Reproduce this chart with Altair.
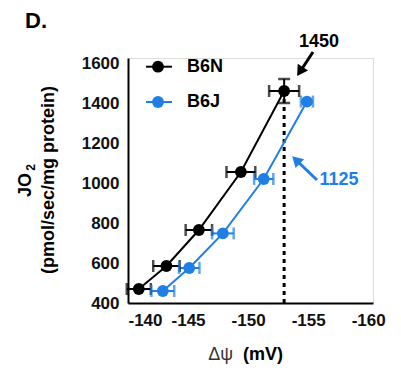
import altair as alt
import pandas as pd

# ---- data ----
genotype = ["B6N"] * 5 + ["B6J"] * 5
dpsi = [-140.9, -143.2, -145.9, -149.4, -153.0,
        -142.9, -145.1, -147.9, -151.3, -154.9]
jo2 = [470, 585, 765, 1055, 1460,
       460, 575, 748, 1020, 1407]
xerr = [1.0, 1.1, 1.1, 1.2, 1.25,
        0.95, 0.85, 0.9, 0.8, 0.5]
yerr = [0, 0, 0, 0, 60,
        0, 0, 0, 0, 0]

y_ticks = [400, 600, 800, 1000, 1200, 1400, 1600]
x_ticks = [-140, -145, -150, -155, -160]
series = ["B6N", "B6J"]
colors = ["#000000", "#1f7fe5"]

df = pd.DataFrame({"g": genotype, "x": dpsi, "y": jo2, "xe": xerr, "ye": yerr})

FONT = "Liberation Sans"

xs = alt.Scale(domain=[-160.4, -140], reverse=True, nice=False, zero=False)
ys = alt.Scale(domain=[400, 1625], nice=False, zero=False)
cs = alt.Scale(domain=series, range=colors)

LBL = "datum.value < 0 ? '-' + abs(datum.value) : '' + datum.value"

X = alt.X("x:Q", scale=xs, axis=alt.Axis(values=x_ticks, title=None, ticks=False, tickSize=0,
                                          labelExpr=LBL,
                                          labelFontSize=17, labelFontWeight="bold", labelColor="#111",
                                          labelPadding=9, domainWidth=2, domainColor="black",
                                          grid=False, labelFont=FONT))
Y = alt.Y("y:Q", scale=ys, axis=alt.Axis(values=y_ticks, title=None, ticks=False, tickSize=0,
                                          labelExpr=LBL,
                                          labelFontSize=17, labelFontWeight="bold", labelColor="#111",
                                          labelPadding=9, domainWidth=2, domainColor="black",
                                          grid=False, labelFont=FONT))
C = alt.Color("g:N", scale=cs, legend=None)

base = alt.Chart(df)

# dashed reference line at the B6N max point
dash_df = df[df["ye"] > 0].assign(y0=400)
dashed = alt.Chart(dash_df).mark_rule(strokeDash=[4, 4], strokeWidth=3, color="black").encode(
    x=alt.X("x:Q", scale=xs), y=alt.Y("y0:Q", scale=ys), y2="y:Q")

lines = base.mark_line(strokeWidth=2).encode(x=X, y=Y, color=C, detail="g:N")

herr = base.transform_calculate(lo="datum.x - datum.xe", hi="datum.x + datum.xe")
hbar = herr.mark_rule(strokeWidth=2).encode(
    x=alt.X("lo:Q", scale=xs), x2="hi:Q", y=alt.Y("y:Q", scale=ys), color=C)
hcap_lo = herr.mark_tick(orient="vertical", size=12, thickness=2.5).encode(
    x=alt.X("lo:Q", scale=xs), y=alt.Y("y:Q", scale=ys), color=C)
hcap_hi = herr.mark_tick(orient="vertical", size=12, thickness=2.5).encode(
    x=alt.X("hi:Q", scale=xs), y=alt.Y("y:Q", scale=ys), color=C)

verr = base.transform_filter("datum.ye > 0").transform_calculate(
    lo="datum.y - datum.ye", hi="datum.y + datum.ye")
vbar = verr.mark_rule(strokeWidth=2).encode(
    x=alt.X("x:Q", scale=xs), y=alt.Y("lo:Q", scale=ys), y2="hi:Q", color=C)
vcap_lo = verr.mark_tick(orient="horizontal", size=12, thickness=2.5).encode(
    x=alt.X("x:Q", scale=xs), y=alt.Y("lo:Q", scale=ys), color=C)
vcap_hi = verr.mark_tick(orient="horizontal", size=12, thickness=2.5).encode(
    x=alt.X("x:Q", scale=xs), y=alt.Y("hi:Q", scale=ys), color=C)

points = base.mark_circle(size=140, opacity=1).encode(x=X, y=Y, color=C)

one = pd.DataFrame({"a": [0]})

def txt(s, x, y, size=18, weight="bold", color="black", align="center", angle=0, baseline="middle"):
    return alt.Chart(one).mark_text(text=s, font=FONT, fontSize=size, fontWeight=weight,
                                    color=color, align=align, baseline=baseline, angle=angle).encode(
        x=alt.value(x), y=alt.value(y))

def seg(x1, y1, x2, y2, color, width=2.0, dash=None):
    kw = {"strokeWidth": width, "color": color}
    if dash:
        kw["strokeDash"] = dash
    return alt.Chart(one).mark_rule(**kw).encode(
        x=alt.value(x1), x2=alt.value(x2), y=alt.value(y1), y2=alt.value(y2))

def head(x, y, ang, color):
    return alt.Chart(one).mark_point(shape="triangle-up", size=150, filled=True, opacity=1,
                                     color=color, angle=ang).encode(x=alt.value(x), y=alt.value(y))

def dot(x, y, color):
    return alt.Chart(one).mark_circle(size=140, opacity=1, color=color).encode(
        x=alt.value(x), y=alt.value(y))

legend = [
    seg(18, 8.7, 44, 8.7, colors[0]), dot(30, 8.7, colors[0]), txt(series[0], 59, 8.5, align="left"),
    seg(18, 44, 44, 44, colors[1]), dot(30, 44, colors[1]), txt(series[1], 59, 44, align="left"),
]

annots = [
    txt("1450", 191, -16.5, size=18),
    seg(185, -6, 172.7, 12.8, "black", width=3),
    head(172.0, 13.5, 213, "black"),
    txt("1125", 211, 121.5, size=18, color=colors[1]),
    seg(189, 122, 168.6, 102.5, colors[1], width=3),
    head(168.0, 102.0, 314, colors[1]),
]

titles = [
    txt("D.", -103, -37, size=22, align="left"),
    txt("JO", -102.5, 127, size=18, angle=270),
    txt("2", -97, 109.5, size=12, angle=270),
    txt("(pmol/sec/mg protein)", -79, 122, size=18, angle=270),
    txt("Δψ", 105, 297, size=18, weight="normal", color="#333", align="right"),
    txt("(mV)", 115, 297, size=18, align="left"),
]

chart = alt.layer(
    dashed, lines, hbar, hcap_lo, hcap_hi, vbar, vcap_lo, vcap_hi, points,
    *legend, *annots, *titles
).properties(
    width=245, height=245,
    autosize=alt.AutoSizeParams(type="none"),
    padding={"left": 128, "top": 58, "right": 28, "bottom": 74},
).configure_view(stroke=None).configure(background="white")

chart.save("out.html", embed_options={"renderer": "svg", "actions": False})
